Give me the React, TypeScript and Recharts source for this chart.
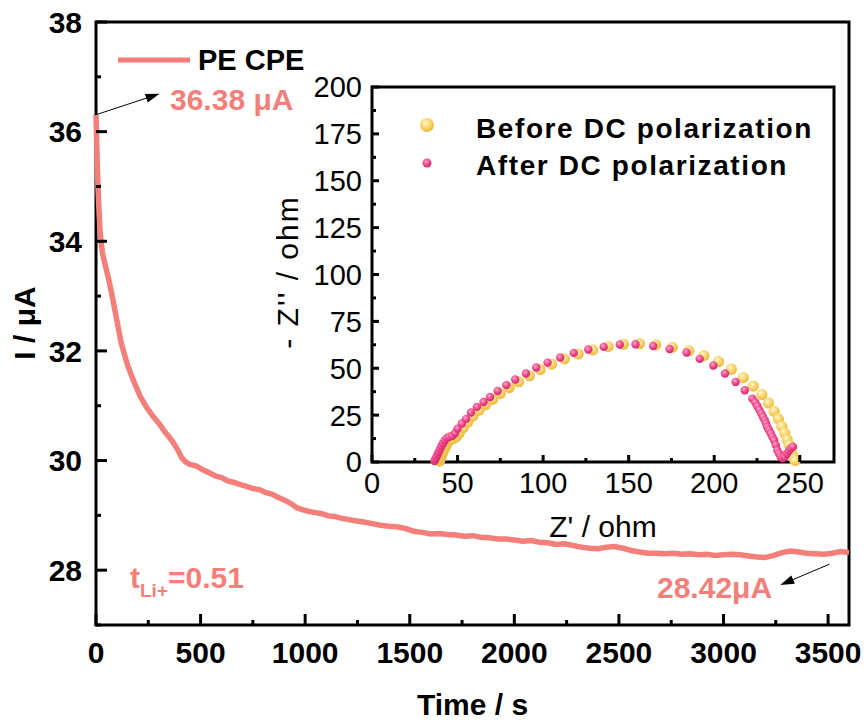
import React from "react";
import {
  LineChart, Line, XAxis, YAxis, ReferenceArea, ReferenceLine, ScatterChart, Scatter,
} from "recharts";

// main chronoamperometry curve (time in s, current in µA)
const timeS = [
  0, 3, 6, 10, 15, 20, 30, 45, 60, 80,
  100, 120, 150, 180, 210, 240, 270, 300, 330, 360,
  390, 410, 430, 450, 480, 510, 540, 570, 600, 630,
  660, 690, 720, 750, 780, 810, 840, 870, 900, 930,
  960, 990, 1020, 1050, 1080, 1110, 1140, 1170, 1200, 1240,
  1280, 1320, 1360, 1400, 1440, 1480, 1520, 1560, 1600, 1640,
  1680, 1720, 1760, 1800, 1840, 1880, 1920, 1960, 2000, 2040,
  2080, 2120, 2160, 2200, 2240, 2280, 2320, 2360, 2400, 2440,
  2480, 2520, 2560, 2600, 2640, 2680, 2720, 2760, 2800, 2840,
  2880, 2920, 2960, 3000, 3040, 3080, 3120, 3160, 3200, 3240,
  3280, 3320, 3360, 3400, 3440, 3480, 3520, 3560, 3600,
];
const currentUA = [
  36.30, 35.85, 35.40, 34.95, 34.50, 34.15, 33.80, 33.55, 33.32, 32.95,
  32.55, 32.15, 31.75, 31.45, 31.18, 30.98, 30.82, 30.68, 30.52, 30.38,
  30.20, 30.05, 29.97, 29.93, 29.90, 29.83, 29.78, 29.72, 29.69, 29.63,
  29.60, 29.56, 29.53, 29.49, 29.47, 29.42, 29.39, 29.33, 29.28, 29.22,
  29.14, 29.10, 29.07, 29.05, 29.03, 28.99, 28.98, 28.95, 28.93, 28.90,
  28.88, 28.85, 28.82, 28.80, 28.79, 28.76, 28.71, 28.69, 28.66, 28.67,
  28.65, 28.64, 28.62, 28.63, 28.60, 28.59, 28.57, 28.57, 28.55, 28.53,
  28.54, 28.51, 28.50, 28.47, 28.48, 28.45, 28.42, 28.40, 28.39, 28.42,
  28.43, 28.40, 28.36, 28.33, 28.31, 28.31, 28.30, 28.31, 28.29, 28.30,
  28.28, 28.29, 28.27, 28.28, 28.29, 28.28, 28.26, 28.24, 28.23, 28.27,
  28.32, 28.35, 28.33, 28.31, 28.30, 28.29, 28.31, 28.34, 28.32,
];

// Nyquist inset, after DC polarization
const reAfter = [
  36.5, 37.0, 37.6, 38.3, 39.0, 39.8, 40.6, 41.5, 42.5, 43.7,
  45.2, 47.0, 48.6, 50.0, 52.5, 55.0, 57.8, 61.3, 65.2, 69.0,
  73.4, 78.5, 83.7, 90.0, 96.0, 102.6, 110.0, 117.9, 126.4, 135.4,
  144.8, 154.0, 164.3, 173.9, 183.8, 191.5, 199.5, 206.3, 212.5, 217.8,
  222.3, 224.0, 225.2, 226.4, 227.5, 228.5, 229.5, 230.3, 231.0, 232.0,
  233.0, 234.0, 235.0, 236.0, 236.9, 237.8, 238.9, 240.0, 241.2, 242.5,
  243.6, 244.7, 246.0,
];
const imAfter = [
  0.5, 1.5, 2.7, 4.0, 5.5, 7.0, 8.5, 10.0, 11.5, 12.8,
  13.5, 14.0, 15.5, 17.8, 20.5, 23.0, 26.4, 29.4, 32.0, 34.7,
  37.9, 41.0, 44.0, 47.2, 50.4, 53.0, 55.7, 58.2, 60.0, 61.4,
  62.7, 62.8, 61.9, 60.3, 58.4, 55.0, 51.5, 47.2, 42.7, 38.3,
  33.8, 31.7, 29.7, 27.7, 25.8, 24.0, 22.3, 20.5, 18.7, 17.0,
  15.2, 13.4, 11.6, 9.0, 6.2, 4.5, 2.7, 2.0, 2.8, 4.5,
  6.0, 7.2, 8.2,
];

// Nyquist inset, before DC polarization
const reBefore = [
  39.5, 40.0, 40.6, 41.3, 42.0, 42.8, 43.7, 44.7, 46.0, 47.6,
  49.2, 51.0, 53.3, 56.0, 59.0, 62.5, 66.3, 70.5, 75.0, 80.2,
  85.7, 92.0, 98.3, 105.0, 112.5, 120.5, 129.0, 138.0, 147.0, 156.3,
  165.8, 175.5, 185.2, 194.0, 202.5, 210.0, 217.0, 222.8, 227.8, 231.7,
  235.0, 237.5, 239.5, 241.2, 242.6, 243.8, 244.8, 245.7, 246.5, 247.3,
];
const imBefore = [
  0.5, 2.0, 3.5, 5.0, 6.5, 8.0, 9.5, 11.0, 12.0, 12.5,
  13.5, 15.5, 18.3, 21.3, 24.5, 27.6, 30.5, 33.4, 36.5, 39.7,
  42.8, 46.0, 49.3, 52.2, 55.0, 57.6, 59.8, 61.6, 62.8, 63.1,
  62.5, 61.2, 59.3, 56.8, 53.5, 49.5, 45.0, 40.5, 36.0, 31.5,
  27.0, 23.0, 19.0, 15.5, 12.0, 9.0, 6.5, 4.0, 2.0, 0.8,
];

const mainXMajor = [0, 500, 1000, 1500, 2000, 2500, 3000, 3500];
const mainXMinor = [250, 750, 1250, 1750, 2250, 2750, 3250];
const mainYMajor = [28, 30, 32, 34, 36, 38];
const mainYMinor = [27, 29, 31, 33, 35, 37];
const insetXMajor = [0, 50, 100, 150, 200, 250];
const insetXMinor = [25, 75, 125, 175, 225];
const insetYMajor = [0, 25, 50, 75, 100, 125, 150, 175, 200];
const insetYMinor = [12.5, 37.5, 62.5, 87.5, 112.5, 137.5, 162.5, 187.5];

// annotation arrows, in data coordinates
const arrowStart = [{ x: 1, y: 36.31 }, { x: 304, y: 36.69 }];
const arrowEnd = [{ x: 3507, y: 28.11 }, { x: 3271, y: 27.73 }];

const W = 867;
const H = 724;
const SALMON = "#F47F7A";
const FONT = "Arial, 'Liberation Sans', sans-serif";

const mainData = timeS.map((t, i) => ({ t, i: currentUA[i] }));
const afterData = reAfter.map((x, i) => ({ x, y: imAfter[i] }));
const beforeData = reBefore.map((x, i) => ({ x, y: imBefore[i] }));

const makeXTick = (major: number[], long: number, short: number, gap: number, size: number, weight: string) =>
  (props: any) => {
    const { x, y, payload } = props;
    const isMajor = major.includes(payload.value);
    return (
      <g>
        <line x1={x} x2={x} y1={y} y2={y - (isMajor ? long : short)} stroke="#000" strokeWidth={3} />
        {isMajor && (
          <text x={x} y={y + gap} textAnchor="middle" fontFamily={FONT} fontSize={size} fontWeight={weight} fill="#000">
            {payload.value}
          </text>
        )}
      </g>
    );
  };

const makeYTick = (major: number[], long: number, short: number, gap: number, size: number, weight: string) =>
  (props: any) => {
    const { x, y, payload } = props;
    const isMajor = major.includes(payload.value);
    return (
      <g>
        <line x1={x} x2={x + (isMajor ? long : short)} y1={y} y2={y} stroke="#000" strokeWidth={3} />
        {isMajor && (
          <text x={x - gap} y={y + size * 0.36} textAnchor="end" fontFamily={FONT} fontSize={size} fontWeight={weight} fill="#000">
            {payload.value}
          </text>
        )}
      </g>
    );
  };

const Arrow = (p: any) => {
  const { x1, y1, x2, y2 } = p;
  const ang = Math.atan2(y2 - y1, x2 - x1);
  const len = 14;
  const w = 4.5;
  const bx = x2 - len * Math.cos(ang);
  const by = y2 - len * Math.sin(ang);
  const px = -Math.sin(ang) * w;
  const py = Math.cos(ang) * w;
  return (
    <g>
      <line x1={x1} y1={y1} x2={bx} y2={by} stroke="#000" strokeWidth={1} />
      <polygon points={`${x2},${y2} ${bx + px},${by + py} ${bx - px},${by - py}`} fill="#000" />
    </g>
  );
};

const Ball = (r: number, fill: string) => (props: any) => {
  const { cx, cy } = props;
  if (cx == null || cy == null) return <g />;
  return <circle cx={cx} cy={cy} r={r} fill={fill} />;
};

const MainChart = () => (
  <LineChart width={W} height={H} data={mainData} margin={{ top: 22, right: 18, bottom: 39, left: 16 }}>
    <XAxis
      dataKey="t" type="number" domain={[0, 3600]} ticks={[...mainXMajor, ...mainXMinor]} interval={0}
      height={60} axisLine={false} tickLine={false} tickSize={0} tickMargin={0}
      tick={makeXTick(mainXMajor, 11, 5, 38, 30, "bold")}
    />
    <YAxis
      dataKey="i" type="number" domain={[27, 38]} ticks={[...mainYMajor, ...mainYMinor]} interval={0}
      width={80} axisLine={false} tickLine={false} tickSize={0} tickMargin={0}
      tick={makeYTick(mainYMajor, 11, 5, 14, 30, "bold")}
    />
    <Line type="linear" dataKey="i" stroke={SALMON} strokeWidth={5.5} dot={false} isAnimationActive={false} />
    <ReferenceArea x1={0} x2={3600} y1={27} y2={38} fill="none" stroke="#000" strokeWidth={3} />
    <ReferenceLine segment={arrowStart} shape={Arrow} />
    <ReferenceLine segment={arrowEnd} shape={Arrow} />
  </LineChart>
);

const InsetChart = () => (
  <ScatterChart width={W} height={H} margin={{ top: 87, right: 33, bottom: 212, left: 302 }}>
    <defs>
      <radialGradient id="goldBall" cx="40%" cy="35%" r="65%">
        <stop offset="0%" stopColor="#FFF7CC" />
        <stop offset="55%" stopColor="#F8D46A" />
        <stop offset="100%" stopColor="#EDB93E" />
      </radialGradient>
      <radialGradient id="pinkBall" cx="40%" cy="35%" r="65%">
        <stop offset="0%" stopColor="#FFA6CA" />
        <stop offset="55%" stopColor="#EE4C8C" />
        <stop offset="100%" stopColor="#D92470" />
      </radialGradient>
    </defs>
    <XAxis
      dataKey="x" type="number" domain={[0, 270]} ticks={[...insetXMajor, ...insetXMinor]} interval={0}
      height={50} axisLine={false} tickLine={false} tickSize={0} tickMargin={0}
      tick={makeXTick(insetXMajor, 7, 4, 31, 29, "normal")}
    />
    <YAxis
      dataKey="y" type="number" domain={[0, 200]} ticks={[...insetYMajor, ...insetYMinor]} interval={0}
      width={70} axisLine={false} tickLine={false} tickSize={0} tickMargin={0}
      tick={makeYTick(insetYMajor, 7, 4, 10, 29, "normal")}
    />
    <Scatter data={beforeData} shape={Ball(5.6, "url(#goldBall)")} isAnimationActive={false} />
    <Scatter data={afterData} shape={Ball(4.2, "url(#pinkBall)")} isAnimationActive={false} />
    <ReferenceArea x1={0} x2={270} y1={0} y2={200} fill="none" stroke="#000" strokeWidth={3} />
  </ScatterChart>
);

const Overlay = () => (
  <svg width={W} height={H} style={{ position: "absolute", left: 0, top: 0, pointerEvents: "none" }} fontFamily={FONT}>
    <defs>
      <radialGradient id="goldLeg" cx="40%" cy="35%" r="65%">
        <stop offset="0%" stopColor="#FFF7CC" />
        <stop offset="55%" stopColor="#F8D46A" />
        <stop offset="100%" stopColor="#EDB93E" />
      </radialGradient>
      <radialGradient id="pinkLeg" cx="40%" cy="35%" r="65%">
        <stop offset="0%" stopColor="#FFA6CA" />
        <stop offset="55%" stopColor="#EE4C8C" />
        <stop offset="100%" stopColor="#D92470" />
      </radialGradient>
    </defs>
    {/* main axis titles */}
    <text x={35} y={323} transform="rotate(-90 35 323)" textAnchor="middle" fontSize={30} fontWeight="bold">I / μA</text>
    <text x={472.5} y={715} textAnchor="middle" fontSize={30} fontWeight="bold">Time / s</text>
    {/* main legend */}
    <line x1={118} x2={190} y1={60} y2={60} stroke={SALMON} strokeWidth={5} />
    <text x={198} y={70} fontSize={29} fontWeight="bold">PE CPE</text>
    {/* annotations */}
    <text x={170} y={110} fontSize={30} fontWeight="bold" fill={SALMON}>36.38 μA</text>
    <text x={657} y={598} fontSize={30} fontWeight="bold" fill={SALMON}>28.42μA</text>
    <text x={130} y={588} fontSize={30} fontWeight="bold" fill={SALMON}>
      t<tspan fontSize={19} dy={9}>Li+</tspan><tspan dy={-9}>=0.51</tspan>
    </text>
    {/* inset titles */}
    <text x={603} y={537} textAnchor="middle" fontSize={30}>Z' / ohm</text>
    <text x={298} y={272} transform="rotate(-90 298 272)" textAnchor="middle" fontSize={30} letterSpacing={2}>- Z'' / ohm</text>
    {/* inset legend */}
    <circle cx={427} cy={125} r={7} fill="url(#goldLeg)" />
    <circle cx={427} cy={163} r={4.5} fill="url(#pinkLeg)" />
    <text x={476} y={137.5} fontSize={28} fontWeight="bold" letterSpacing={1.6}>Before DC polarization</text>
    <text x={476} y={175} fontSize={28} fontWeight="bold" letterSpacing={1.6}>After DC polarization</text>
  </svg>
);

export default function App() {
  return (
    <div style={{ position: "absolute", left: 0, top: 0, width: W, height: H, background: "#fff" }}>
      <div style={{ position: "absolute", left: 0, top: 0 }}>
        <MainChart />
      </div>
      <div style={{ position: "absolute", left: 0, top: 0 }}>
        <InsetChart />
      </div>
      <Overlay />
    </div>
  );
}
